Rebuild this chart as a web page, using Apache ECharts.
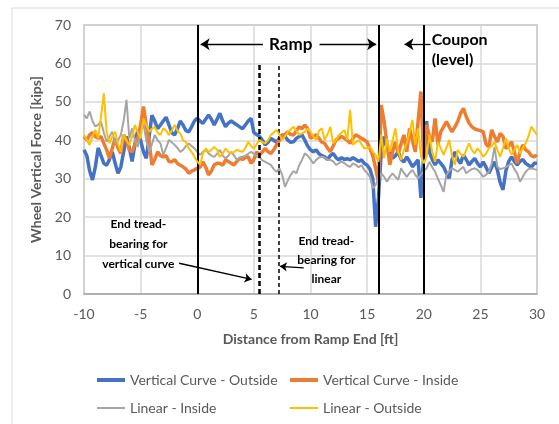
<!DOCTYPE html>
<html>
<head>
<meta charset="utf-8">
<script src="https://cdn.jsdelivr.net/npm/echarts@6/dist/echarts.min.js"></script>
<style>
html, body { margin: 0; padding: 0; background: #fff; }
#main { width: 559px; height: 424px; }
</style>
</head>
<body>
<div id="main"></div>
<script>
// samples every 0.25 ft from -10 ft
var X_START = -10, X_STEP = 0.25;

var vcOutside = [
  37.5, 36, 32, 29.7,  33, 38, 36, 34,  33.5, 35, 37, 34,  31.4, 33, 37, 41,  38, 34.5, 39, 42.7,
  40, 37, 35.3, 41,  46.5, 45, 43, 44,  45, 46, 44, 42,  41.4, 43, 45, 44,  42.5, 42.2, 43.5, 45,
  45.7, 45, 44.4, 45.5,  46.6, 45.5, 44, 45.5,  47, 45, 43.5, 44.5,  45, 44.5, 44, 43.5,  43, 44, 45, 45.7,
  42, 41.5, 41, 40,  38.8, 39.5, 40.5, 40,  39.5, 40.5, 41.4, 41,  40, 39.5, 39.6, 40.5,  41, 41.4, 40, 38.5,
  37.5, 37, 37.5, 36.5,  36, 35.7, 35, 36,  36.6, 35.5, 34.9, 35.5,  35, 35.2, 34.9, 35.5,  35, 34.5, 34.9, 34,
  33.5, 32.5, 30, 17.5,  25, 37, 41, 38,  37.5, 35.3, 36, 37,  35, 34.4, 35.7, 34.5,  33.1, 34, 34.9, 25,
  36, 45, 37, 35,  33.6, 34.9, 34, 33.1,  31.5, 30.1, 35, 37,  35, 34, 36.2, 35,  33.6, 34.5, 35.3, 34,
  33.1, 34.4, 33, 31.4,  33, 34.4, 32.3, 29,  27.1, 32, 34.5, 35.7,  34.5, 33.6, 34.5, 35,  34, 33.5, 33, 34,
  34
];

var vcInside = [
  41, 40, 41.4, 42,  41, 40.5, 41, 39.2,  37.5, 35.3, 38, 40.5,  38, 36.6, 41.4, 40,  37.5, 37, 39, 40.5,
  44, 48.8, 44, 39.6,  33.6, 35, 37, 36,  35.7, 36, 34.5, 34.4,  35, 34, 33.5, 33.1,  32.5, 31.4, 32, 32.3,
  32.7, 33, 34.4, 33,  31, 32, 33.6, 34,  34, 33.5, 34.9, 34.5,  34, 33.6, 34.5, 35.3,  35, 35.5, 35.7, 34,
  35, 37, 36.2, 37,  37.9, 37, 36.6, 37.5,  38.8, 40, 41, 41.5,  42.2, 41.5, 41.4, 42.5,  43.5, 43, 44, 43,
  40.5, 41, 41.4, 40.5,  39.5, 39.2, 38, 37,  38.5, 40.1, 40.5, 41,  40.5, 40, 39.2, 40.5,  41.4, 41, 40.5, 40.1,
  39.5, 37.9, 36, 32.7,  29.2, 49.2, 44.9, 39.2,  33.6, 37, 39.6, 36.6,  39, 41.4, 37, 43.1,  40, 37, 44.9, 52.7,
  34.4, 44, 41, 39.6,  45.7, 38.8, 42.2, 43.5,  44.9, 43.5, 42.2, 43.5,  44.9, 47, 48.3, 46.2,  44.5, 43.5, 43, 42.7,
  42.5, 42.2, 39, 38.3,  42.7, 41, 39.6, 41.8,  41, 37.9, 38.5, 39.6,  37, 34, 37, 38.8,  37.5, 37, 36, 35.7,
  36.2
];

var linInside = [
  46.6, 45.7, 47.5, 45,  43.6, 44, 44.9, 42,  39.6, 41, 42.2, 39.2,  40, 41.4, 45, 50.5,  40.5, 43.1, 40, 38.3,
  42.2, 44.4, 40, 37,  39, 41.4, 40, 39.2,  36.2, 38, 40.1, 39.5,  38.8, 38, 37, 37.5,  38.5, 39.2, 38.5, 37.9,
  37, 36.2, 37, 37.5,  36.6, 36, 35.7, 36.5,  37.5, 36, 35.3, 36,  37, 36, 34.9, 35.5,  35.7, 36, 36.5, 37,
  36.5, 35.7, 35.5, 34.8,  34.4, 34, 33.6, 32.5,  31.8, 32.7, 31, 27.9,  29.5, 31, 32, 31.4,  33.5, 34.9, 36.6, 36,
  35, 34, 34.9, 35.5,  35.7, 35.5, 35, 34.9,  34.5, 33.6, 34, 34.5,  34, 33.5, 33.1, 34,  33.6, 33, 33.5, 32.3,
  31.5, 30.5, 27.5, 28.4,  30.1, 31.4, 30.5, 29.2,  30.5, 31.4, 30.5, 29.7,  32.7, 31.5, 30.5, 31.5,  32.3, 31, 30.1, 31,
  32, 32.7, 34.4, 33,  31.8, 30, 28.4, 26.6,  31, 32, 32.7, 32.3,  31.8, 32.5, 33.1, 31.4,  32, 32.5, 32.7, 32.3,
  31.5, 30.5, 31, 31.8,  34, 38.3, 33.1, 32.5,  32.7, 33, 33.5, 34,  32.5, 31.4, 29.2, 30.5,  31.8, 32.5, 32.7, 32.5,
  32.3
];

var linOutside = [
  41.4, 40, 38.8, 41,  42.7, 40.5, 46, 52.2,  42.2, 39.2, 41, 42.2,  39, 37, 41.4, 40,  38.8, 41, 44, 42,
  40.5, 45.7, 44, 42.2,  43, 43.5, 42, 41.4,  43.1, 42.5, 41.4, 42.5,  44, 42.5, 41.8, 40,  39.6, 37.9, 37, 35.7,
  34.5, 33.6, 36.5, 37.9,  37, 37.5, 38.3, 37.5,  35.7, 36.5, 37.9, 37,  36.6, 37, 37.5, 37.2,  37, 38, 39.6, 38.5,
  37.9, 39, 40.1, 39.5,  39.2, 40, 41.4, 42,  42.7, 41.5, 40.1, 41,  42.2, 42.8, 43.5, 42.5,  41.4, 41.8, 42.2, 43,
  42.2, 41, 40.1, 42.5,  43.1, 40.1, 41.5, 43.5,  39.2, 40, 41.4, 42,  42.7, 40.1, 47.9, 38.8,  39.5, 40.1, 39, 37.9,
  38, 38.3, 37, 36.2,  34.4, 41.4, 35.3, 40.5,  37, 40, 43.1, 37,  34.9, 37.5, 39.2, 42.2,  45.3, 38.8, 43.1, 36,
  34, 35.7, 41.4, 37,  34.4, 39.6, 38, 36.2,  38, 40.1, 36, 33.6,  37.5, 36.5, 35.7, 37.5,  39.2, 37.5, 36.6, 37.9,
  37, 35.7, 36.5, 37.9,  38.5, 39.6, 37.5, 35.7,  38, 40.5, 38, 36.2,  37.5, 38.8, 36.6, 38,  39.2, 41, 43.6, 42.5,
  41.4
];

var seriesNames = ['Vertical Curve - Outside', 'Vertical Curve - Inside', 'Linear - Inside', 'Linear - Outside'];
var seriesColors = ['#4472C4', '#ED7D31', '#A5A5A5', '#FFC000'];
var seriesWidths = [3.5, 3.5, 2, 2];
var seriesValues = [vcOutside, vcInside, linInside, linOutside];

function toPairs(vals) {
  return vals.map(function (v, i) { return [X_START + i * X_STEP, v]; });
}

var FONT = 'Lato';
var chart = echarts.init(document.getElementById('main'));

var series = seriesNames.map(function (name, k) {
  return {
    name: name,
    type: 'line',
    data: toPairs(seriesValues[k]),
    symbol: 'none',
    color: seriesColors[k],
    lineStyle: { color: seriesColors[k], width: seriesWidths[k] },
    z: 2 + k
  };
});

var solid = { color: '#000', width: 2, type: 'solid' };
var thin = { color: '#000', width: 1.3, type: 'solid' };

series.push({
  name: 'notes',
  type: 'line',
  data: [],
  z: 10,
  markLine: {
    silent: true,
    animation: false,
    symbol: ['none', 'arrow'],
    symbolSize: [9, 9],
    label: { show: false },
    data: [
      [{ coord: [0, 0] }, { coord: [0, 70], symbol: 'none', lineStyle: solid }],
      [{ coord: [16, 0] }, { coord: [16, 70], symbol: 'none', lineStyle: solid }],
      [{ coord: [20, 0] }, { coord: [20, 70], symbol: 'none', lineStyle: solid }],
      [{ coord: [5.5, 0] }, { coord: [5.5, 60], symbol: 'none', lineStyle: { color: '#000', width: 2.5, type: [5, 3] } }],
      [{ coord: [7.2, 0] }, { coord: [7.2, 60], symbol: 'none', lineStyle: { color: '#000', width: 1.5, type: [4, 3] } }],
      [{ coord: [5.8, 65] }, { coord: [0.3, 65], lineStyle: thin }],
      [{ coord: [10.8, 65] }, { coord: [15.8, 65], lineStyle: thin }],
      [{ coord: [20.6, 65] }, { coord: [18.3, 65], lineStyle: thin }],
      [{ coord: [-1.6, 8] }, { coord: [4.8, 3.8], lineStyle: thin, symbolSize: [7, 7] }],
      [{ coord: [9.4, 6.8] }, { coord: [7.3, 7.2], lineStyle: thin, symbolSize: [7, 7] }]
    ]
  },
  markPoint: {
    silent: true,
    animation: false,
    symbol: 'circle',
    symbolSize: 0,
    label: { show: true, position: 'inside', color: '#000', fontFamily: FONT, fontWeight: 'bold' },
    data: [
      { coord: [8.25, 65], label: { formatter: 'Ramp', fontSize: 17 } },
      { coord: [20.7, 63.5], label: { formatter: 'Coupon\n(level)', fontSize: 16, lineHeight: 20, align: 'left' } },
      { coord: [-5.2, 13], label: { formatter: 'End tread-\nbearing for\nvertical curve', fontSize: 12, lineHeight: 20 } },
      { coord: [11.4, 8.9], label: { formatter: 'End tread-\nbearing for\nlinear', fontSize: 12, lineHeight: 19 } }
    ]
  }
});

function legendAt(k, left, top) {
  return {
    data: [seriesNames[k]],
    left: left,
    top: top,
    icon: 'rect',
    itemWidth: 28,
    itemHeight: seriesWidths[k] > 3 ? 4 : 2,
    selectedMode: false,
    textStyle: { color: '#595959', fontSize: 14, fontFamily: FONT }
  };
}

var option = {
  animation: false,
  backgroundColor: '#fff',
  graphic: [{
    type: 'rect',
    shape: { x: 12, y: 8, width: 560, height: 430 },
    style: { fill: 'none', stroke: '#D9D9D9', lineWidth: 1 }
  }],
  grid: { left: 84, right: 22, top: 25, bottom: 130, show: true, borderColor: '#A6A6A6', borderWidth: 1.5 },
  legend: [
    legendAt(0, 92, 368),
    legendAt(1, 285, 368),
    legendAt(2, 92, 396),
    legendAt(3, 285, 396)
  ],
  xAxis: {
    type: 'value',
    min: -10, max: 30, interval: 5,
    name: 'Distance from Ramp End [ft]',
    nameLocation: 'middle',
    nameGap: 38,
    nameTextStyle: { color: '#595959', fontSize: 14, fontWeight: 'bold', fontFamily: FONT },
    axisLine: { show: true, lineStyle: { color: '#A6A6A6', width: 1.5 } },
    axisTick: { show: false },
    axisLabel: { color: '#595959', fontSize: 14, fontFamily: FONT, margin: 13 },
    splitLine: { show: true, lineStyle: { color: '#D9D9D9', width: 1.5 } }
  },
  yAxis: {
    type: 'value',
    min: 0, max: 70, interval: 10,
    name: 'Wheel Vertical Force [kips]',
    nameLocation: 'middle',
    nameGap: 38,
    nameTextStyle: { color: '#595959', fontSize: 14, fontWeight: 'bold', fontFamily: FONT },
    axisLine: { show: true, lineStyle: { color: '#A6A6A6', width: 1.5 } },
    axisTick: { show: false },
    axisLabel: { color: '#595959', fontSize: 14, fontFamily: FONT, margin: 13 },
    splitLine: { show: true, lineStyle: { color: '#D9D9D9', width: 1.5 } }
  },
  series: series
};

chart.setOption(option);
</script>
</body>
</html>
